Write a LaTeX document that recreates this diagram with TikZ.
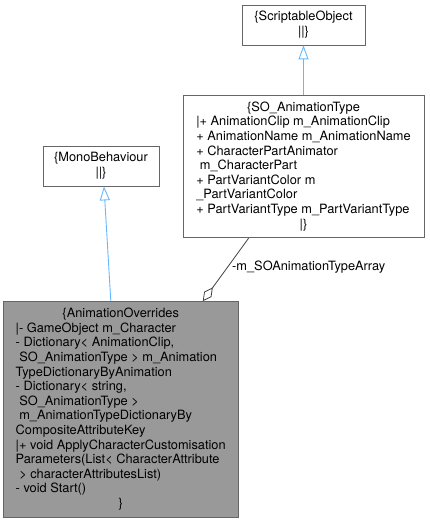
\documentclass[tikz,border=0pt]{standalone}
\usepackage{fontspec}
\setmainfont{TeX Gyre Heros}
\usetikzlibrary{arrows.meta, positioning, calc}
\definecolor{inhblue}{HTML}{63B8FF}
\definecolor{boxline}{HTML}{666666}
\definecolor{curfill}{HTML}{999999}
\definecolor{aggline}{HTML}{404040}
\newcommand{\clshead}[1]{\multicolumn{1}{@{}c@{}}{#1}}

\begin{document}
\begin{tikzpicture}[x=1pt, y=-1pt,
  cls/.style={rectangle, draw=boxline, line width=0.8pt, inner sep=0pt,
    fill=white, font=\fontsize{12.8}{14.6}\selectfont},
  cur/.style={cls, fill=curfill},
  inh/.style={-{Triangle[open, length=14pt, width=10pt]}, inhblue, line width=0.9pt},
  agg/.style={{Diamond[open, length=17pt, width=9pt]}-, aggline, line width=0.8pt},
  lbl/.style={font=\fontsize{12.8}{14.6}\selectfont, inner sep=0pt}
]
\useasboundingbox (0,0) rectangle (429,521);

% Base classes
\node[cls, minimum width=123pt, minimum height=40pt] (sobj) at (303.5,25)
  {\begin{tabular}{@{}l@{}}\clshead{\{ScriptableObject}\\ \clshead{||\}}\end{tabular}};
\node[cls, minimum width=116pt, minimum height=40pt] (monob) at (101,166)
  {\begin{tabular}{@{}l@{}}\clshead{\{MonoBehaviour}\\ \clshead{||\}}\end{tabular}};

% Scriptable animation type
\node[cls, minimum width=241pt, minimum height=142pt, below=50pt of sobj] (soat)
  {\begin{tabular}{@{}l@{}}
    \clshead{\{SO\_AnimationType}\\
    |+ AnimationClip m\_AnimationClip\\
    + AnimationName m\_AnimationName\\
    + CharacterPartAnimator\\
    \ m\_CharacterPart\\
    + PartVariantColor m\\
    \_PartVariantColor\\
    + PartVariantType m\_PartVariantType\\
    \clshead{|\}}
  \end{tabular}};

% Current class
\node[cur, minimum width=235pt, minimum height=216pt, anchor=north east] (animovr)
  at ($(soat.south west)+(56,63)$)
  {\begin{tabular}{@{}l@{}}
    \clshead{\{AnimationOverrides}\\
    |- GameObject m\_Character\\
    - Dictionary< AnimationClip,\\
    \ SO\_AnimationType > m\_Animation\\
    TypeDictionaryByAnimation\\
    - Dictionary< string,\\
    \ SO\_AnimationType >\\
    \ m\_AnimationTypeDictionaryBy\\
    CompositeAttributeKey\\
    |+ void ApplyCharacterCustomisation\\
    Parameters(List< CharacterAttribute\\
    \ > characterAttributesList)\\
    - void Start()\\
    \clshead{\}}
  \end{tabular}};

% Inheritance
\draw[inh] (soat.north) -- (sobj.south);
\draw[inh] ($(animovr.north west)+(108,0)$) -- ($(monob.south)+(3,0)$);

% Aggregation
\draw[agg] ($(animovr.north west)+(200,0)$) -- ($(soat.south west)+(66,0)$);
\node[lbl, anchor=west] (agglbl) at (232,267) {-m\_SOAnimationTypeArray};

\end{tikzpicture}
\end{document}
